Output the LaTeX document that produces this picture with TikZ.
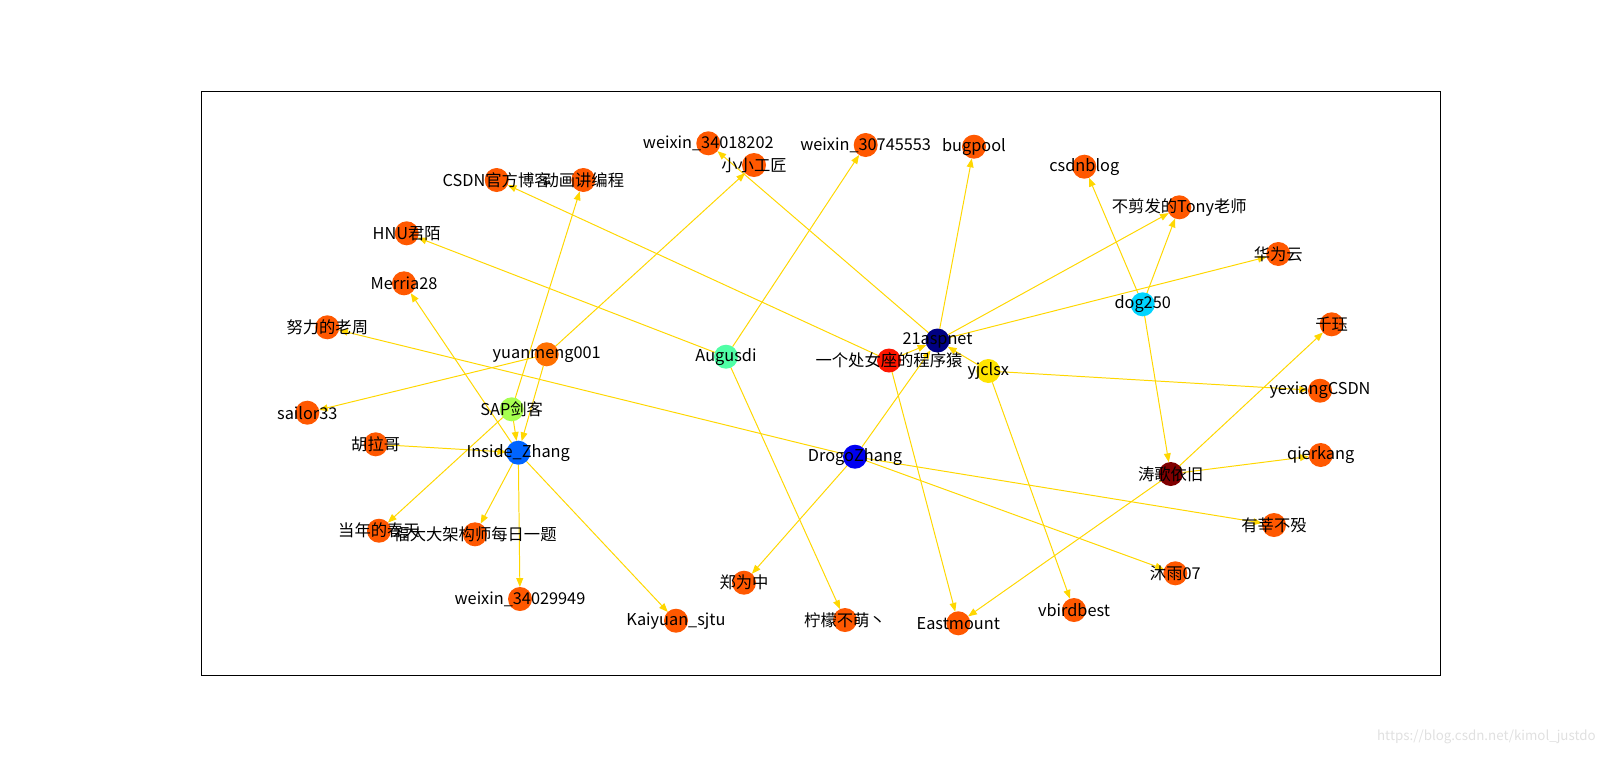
\documentclass[tikz,border=0pt]{standalone}
\usepackage{fontspec}
\setmainfont{Noto Sans CJK SC}
\usetikzlibrary{arrows.meta,backgrounds}
\definecolor{leafcolor}{RGB}{255,88,0}
\definecolor{yuancolor}{RGB}{255,112,0}
\definecolor{aspcolor}{RGB}{0,0,130}
\definecolor{ladycolor}{RGB}{255,22,0}
\definecolor{yjcolor}{RGB}{255,228,0}
\definecolor{dogcolor}{RGB}{0,212,255}
\definecolor{taocolor}{RGB}{128,0,0}
\definecolor{drogocolor}{RGB}{0,0,241}
\definecolor{insidecolor}{RGB}{0,100,255}
\definecolor{sapcolor}{RGB}{166,255,80}
\definecolor{augcolor}{RGB}{80,255,166}
\definecolor{edgecolor}{RGB}{255,215,0}

\begin{document}
\begin{tikzpicture}[x=0.025cm,y=-0.025cm,
    dot/.style={circle,minimum size=0.6cm,inner sep=0pt,outer sep=0pt},
    lbl/.style={font=\fontsize{11.6}{12}\selectfont,inner sep=0pt},
    follow/.style={edgecolor,line width=0.7pt,-{Triangle[length=0.22cm,width=0.17cm]}}]
        \useasboundingbox (0,0) rectangle (1600,758);
        \draw[black,line width=0.7pt] (201,91) rectangle (1440,675);
        % users
        \foreach \n/\x/\y/\c in {
            csdnoff/496.7/180/leafcolor, anim/583.3/180/leafcolor,
            hnu/406.7/233.3/leafcolor, merria/404/283.3/leafcolor,
            zhou/327.3/327.3/leafcolor, yuan/546.7/354.3/yuancolor,
            wxa/708.3/143.3/leafcolor, xiao/754/165/leafcolor,
            wxb/865.7/145/leafcolor, bug/974/146.7/leafcolor,
            asp/937.5/340.5/aspcolor, aug/726/356.7/augcolor,
            lady/889/360.5/ladycolor, yj/988.3/371/yjcolor,
            blog/1084.3/166.7/leafcolor, tony/1179.3/207.3/leafcolor,
            hw/1278.3/254/leafcolor, dog/1142.7/304.3/dogcolor,
            qj/1331.7/324.3/leafcolor, sailor/307.3/412.7/leafcolor,
            sap/511.7/409.3/sapcolor, hula/375.7/444.3/leafcolor,
            inside/518.3/452.7/insidecolor, spring/379/530.7/leafcolor,
            fuda/475/534.3/leafcolor, wxc/520/599/leafcolor,
            drogo/855/456.7/drogocolor, zheng/744/582.7/leafcolor,
            kai/676/620.7/leafcolor, lemon/845/620/leafcolor,
            east/958.3/623.3/leafcolor, yex/1320/390.7/leafcolor,
            qier/1320.7/455/leafcolor, tao/1170.7/474/taocolor,
            youxin/1274/525/leafcolor, muyu/1175.3/573.3/leafcolor,
            vbird/1074/610/leafcolor}
          \node[dot,fill=\c] (\n) at (\x,\y) {};
        % follows
        \begin{scope}[on background layer]
          \foreach \s/\t in {asp/bug, asp/tony, asp/hw, asp/wxa, yj/asp,
              lady/asp, drogo/asp, dog/blog, dog/tony, dog/tao,
              tao/qj, tao/qier, tao/east, yj/yex, yj/vbird,
              lady/csdnoff, lady/east, aug/hnu, aug/wxb, aug/lemon,
              yuan/xiao, yuan/sailor, yuan/inside, sap/anim, sap/spring,
              sap/inside, inside/merria, hula/inside, inside/fuda,
              inside/wxc, inside/kai, drogo/zheng, drogo/zhou,
              drogo/youxin, drogo/muyu}
            \draw[follow] (\s) -- (\t);
        \end{scope}
        % names
        \foreach \n/\t in {csdnoff/CSDN官方博客, anim/动画讲编程, hnu/HNU君陌,
            merria/Merria28, zhou/努力的老周, yuan/yuanmeng001,
            wxa/weixin\_34018202, xiao/小小工匠, wxb/weixin\_30745553,
            bug/bugpool, asp/21aspnet, aug/Augusdi, lady/一个处女座的程序猿,
            yj/yjclsx, blog/csdnblog, tony/不剪发的Tony老师, hw/华为云,
            dog/dog250, qj/千珏, sailor/sailor33, sap/SAP剑客, hula/胡拉哥,
            inside/Inside\_Zhang, spring/当年的春天, fuda/福大大架构师每日一题,
            wxc/weixin\_34029949, drogo/DrogoZhang, zheng/郑为中,
            kai/Kaiyuan\_sjtu, lemon/柠檬不萌丶, east/Eastmount,
            yex/yexiangCSDN, qier/qierkang, tao/涛歌依旧, youxin/有莘不殁,
            muyu/沐雨07, vbird/vbirdbest}
          \node[lbl] at (\n) {\t};
        \node[font=\fontsize{9.5}{10}\selectfont,text=black!12,anchor=east,inner sep=0pt] (mark) at (1596,737) {https://blog.csdn.net/kimol\_justdo};
      \end{tikzpicture}
\end{document}
